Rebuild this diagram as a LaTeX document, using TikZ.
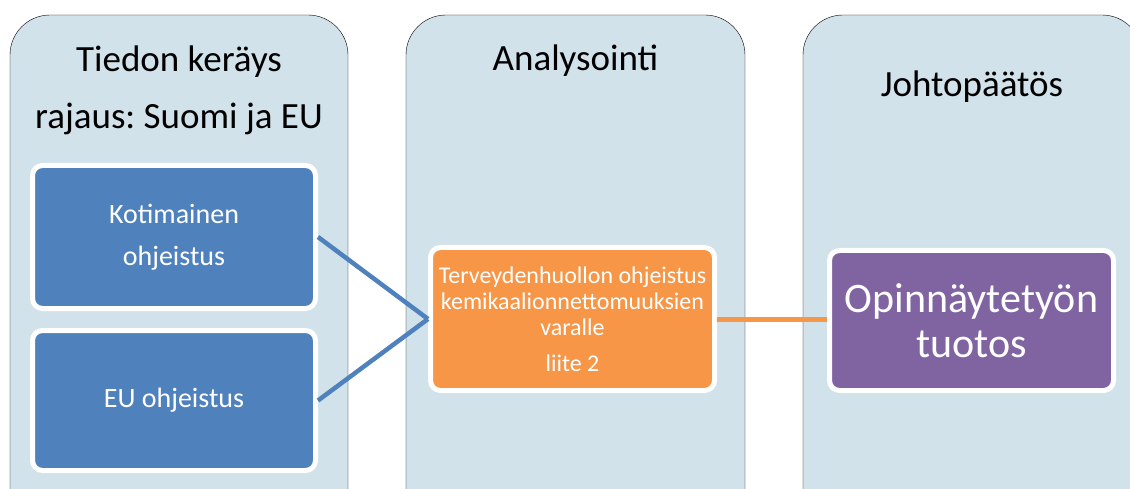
\documentclass[tikz,border=0pt]{standalone}
\usepackage{fontspec}
\setmainfont{Carlito}
\frenchspacing
\usetikzlibrary{positioning}
\definecolor{colbg}{RGB}{209,226,234}
\definecolor{boxblue}{RGB}{79,129,189}
\definecolor{boxorange}{RGB}{247,150,70}
\definecolor{boxpurple}{RGB}{128,100,162}
\tikzset{
  column/.style={fill=colbg, rounded corners=40pt},
  stepbox/.style={draw=white, line width=5pt, rounded corners=10pt, text=white, align=center, outer sep=2.5pt, inner sep=0pt, minimum width=284pt},
  header/.style={font=\fontsize{37}{57}\selectfont, align=center},
  blueline/.style={draw=boxblue, line width=4.5pt},
  orangeline/.style={draw=boxorange, line width=5pt},
}

\begin{document}
\begin{tikzpicture}[x=1pt,y=-1pt]
		\useasboundingbox (0,0) rectangle (1130,489);
		\clip (0,0) rectangle (1130,489);
		%%%%% COLUMNS %%%%%
		\draw[column] (10,15) rectangle (348,530);
		\draw[column] (406,15) rectangle (745,530);
		\draw[column] (803,15) rectangle (1142,530);
		
		\node[header] (keruu) at (179,90) {Tiedon keräys\\rajaus: Suomi ja EU};
		\node[header, anchor=base] (analyysi) at (575.5,71) {Analysointi};
		\node[header, anchor=base] (johtopaatos) at (972,97) {Johtopäätös};
		
		%%%%% BOXES %%%%%
		\node[stepbox, fill=boxblue, minimum width=283pt, minimum height=143pt, font=\fontsize{28}{42}\selectfont] (koti) at (174,237) {Kotimainen\\ohjeistus};
		\node[stepbox, fill=boxblue, minimum width=283pt, minimum height=140pt, font=\fontsize{28}{42}\selectfont] (eu) at (174,400.5) {EU ohjeistus};
		\node[stepbox, fill=boxorange, minimum height=143pt, font=\fontsize{24}{26}\selectfont] (ohje) at (572.5,319) {Terveydenhuollon ohjeistus\\kemikaalionnettomuuksien\\varalle\\[10pt]liite 2};
		\node[stepbox, fill=boxpurple, minimum height=140pt, font=\fontsize{42}{45}\selectfont] (tuotos) at (971.5,320.5) {Opinnäytetyön\\tuotos};
		
		%%%%% LINES %%%%%
		\draw[blueline] (koti.east) -- (ohje.west);
		\draw[blueline] (eu.east) -- (ohje.west);
		\draw[orangeline] (ohje.east) -- (ohje.east -| tuotos.west);
		%%%%% END %%%%%
\end{tikzpicture}
\end{document}
